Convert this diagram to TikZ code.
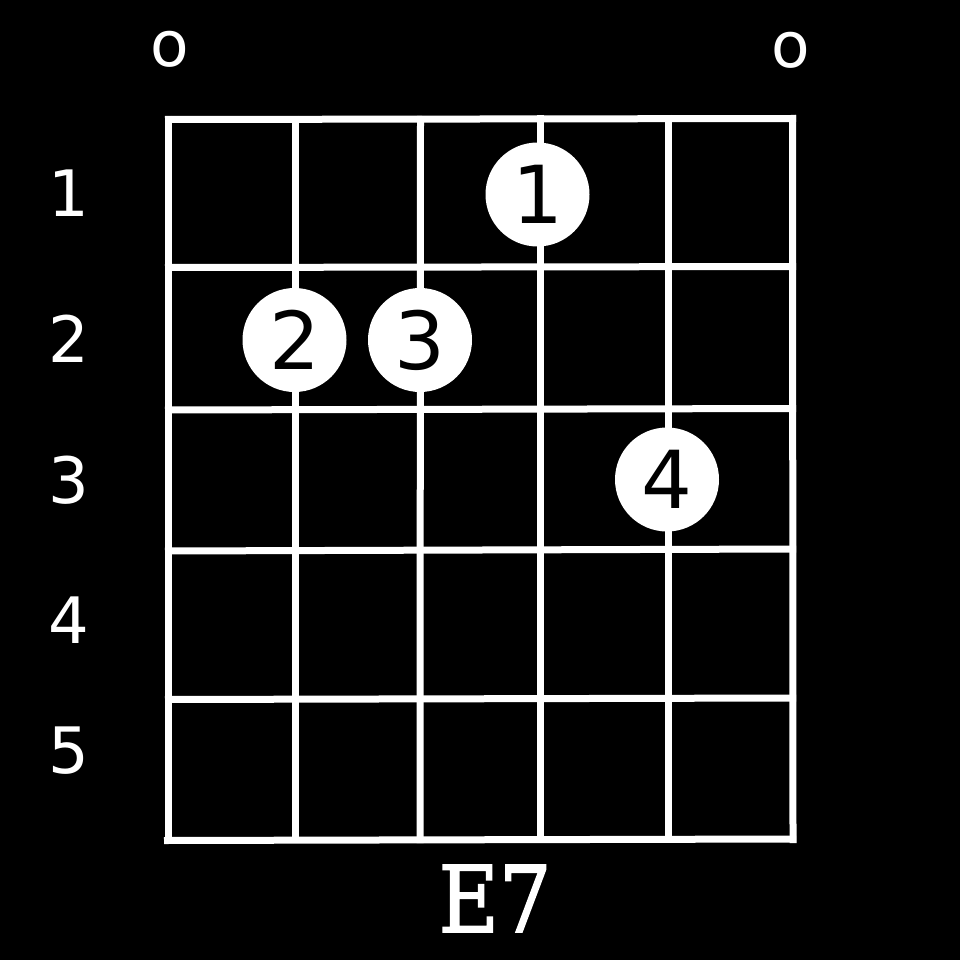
\documentclass[tikz,border=0pt]{standalone}
\usepackage{fontspec}
\setmainfont{DejaVu Sans}
\newfontfamily\titlefont{DejaVu Serif Condensed}[FakeBold=1.6]
\begin{document}
\begin{tikzpicture}[x=1pt,y=-1pt,
  gridline/.style={draw=white,line width=7pt},
  rowlabel/.style={text=white,anchor=base,inner sep=0pt,font=\fontsize{64}{64}\selectfont},
  openmark/.style={text=white,anchor=base,inner sep=0pt,font=\fontsize{63}{63}\selectfont},
  finger/.style={circle,fill=white,text=black,minimum size=104pt,inner sep=0pt,font=\fontsize{80}{80}\selectfont},
  chordname/.style={text=white,anchor=base,inner sep=0pt,font=\titlefont\fontsize{92}{92}\selectfont}]
\fill[black] (0,0) rectangle (960,960);
\useasboundingbox (0,0) rectangle (960,960);
% frets (horizontal)
\draw[gridline] (165,119.5) -- (796,118.5);
\draw[gridline] (165,267.5) -- (796,266.5);
\draw[gridline] (165,410) -- (796,408.5);
\draw[gridline] (165,551) -- (796,549);
\draw[gridline] (165,699.5) -- (796,698);
\draw[gridline] (164,840.5) -- (796,839);
% strings (vertical)
\draw[gridline] (168.5,116) -- (168.5,844);
\draw[gridline] (295.5,116) -- (295.5,843);
\draw[gridline] (420.5,116) -- (420,843);
\draw[gridline] (540,115) -- (540,843);
\draw[gridline] (668,115) -- (668,843);
\draw[gridline] (792.5,115) -- (793,843);
% open strings
\node[openmark] (o1) at (170,67) {o};
\node[openmark] (o6) at (791,68) {o};
% fret numbers
\node[rowlabel] (r1) at (69,216) {1};
\node[rowlabel] (r2) at (69,362) {2};
\node[rowlabel] (r3) at (69,503) {3};
\node[rowlabel] (r4) at (69,643) {4};
\node[rowlabel] (r5) at (69,773) {5};
% fingers
\node[finger] (f1) at (537.5,194.5) {1};
\node[finger] (f2) at (294.5,340) {2};
\node[finger] (f3) at (420,340) {3};
\node[finger] (f4) at (667,479.5) {4};
% chord name
\node[chordname] (name) at (495,932) {E7};
\end{tikzpicture}
\end{document}
